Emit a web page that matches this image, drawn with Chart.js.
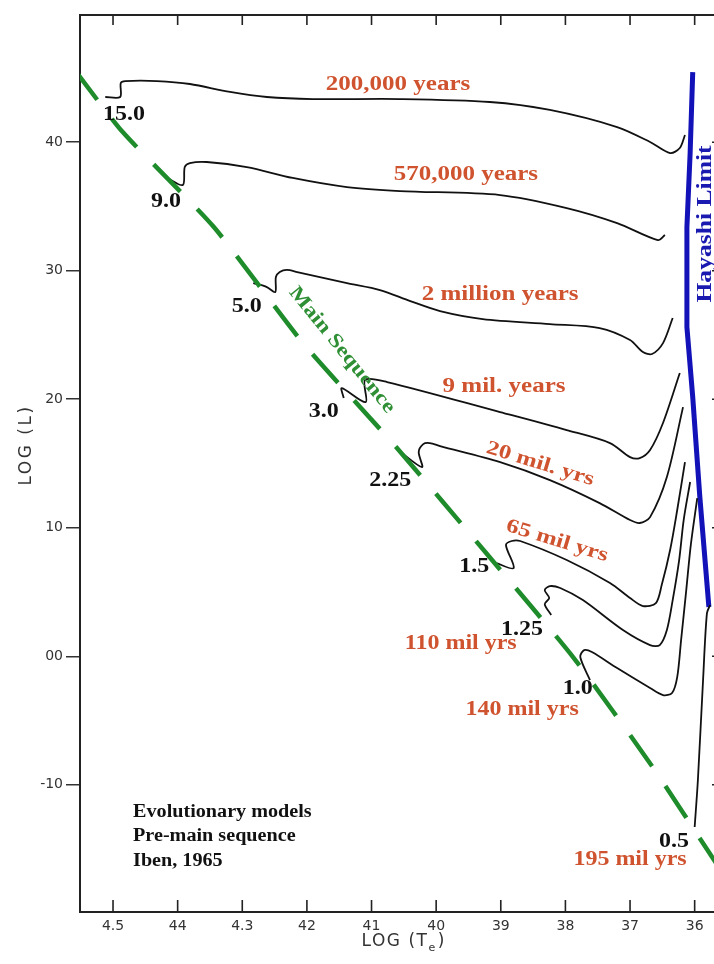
<!DOCTYPE html>
<html>
<head>
<meta charset="utf-8">
<script src="https://cdn.jsdelivr.net/npm/chart.js@4.4.1/dist/chart.umd.min.js"></script>
<style>
  html, body { margin: 0; padding: 0; background: #fff; overflow: hidden; }
  #wrap { width: 740px; height: 964px; }
</style>
</head>
<body>
<div id="wrap"><canvas id="hr" width="740" height="964"></canvas></div>
<script>
// Pre-main-sequence evolutionary tracks (Iben, 1965): log Te against log L

const xTickValues = [4.5, 4.4, 4.3, 4.2, 4.1, 4.0, 3.9, 3.8, 3.7, 3.6];
const xTickLabels = ["4.5", "44", "4.3", "42", "41", "40", "39", "38", "37", "36"];
const yTickValues = [4, 3, 2, 1, 0, -1];
const yTickLabels = ["40", "30", "20", "10", "00", "-10"];

// 15.0 solar masses
const track15_logT = [4.512, 4.489, 4.488, 4.481, 4.432, 4.381, 4.319, 4.262, 4.191, 4.056, 3.917, 3.824, 3.720, 3.669, 3.638, 3.623, 3.615];
const track15_logL = [4.352, 4.352, 4.461, 4.476, 4.476, 4.453, 4.391, 4.352, 4.336, 4.336, 4.313, 4.251, 4.118, 4.002, 3.916, 3.955, 4.056];
// 9.0
const track9_logT = [4.416, 4.392, 4.389, 4.381, 4.355, 4.293, 4.222, 4.138, 4.056, 3.901, 3.798, 3.720, 3.657, 3.646];
const track9_logL = [3.722, 3.667, 3.807, 3.838, 3.846, 3.807, 3.722, 3.651, 3.620, 3.589, 3.488, 3.371, 3.239, 3.278];
// 5.0
const track5_logT = [4.283, 4.262, 4.249, 4.248, 4.242, 4.231, 4.215, 4.138, 4.087, 4.040, 3.994, 3.928, 3.824, 3.747, 3.700, 3.680, 3.666, 3.649, 3.634];
const track5_logL = [2.904, 2.873, 2.834, 2.951, 2.990, 3.006, 2.990, 2.904, 2.850, 2.764, 2.686, 2.624, 2.585, 2.554, 2.461, 2.367, 2.352, 2.437, 2.632];
// 3.0
const track3_logT = [4.143, 4.146, 4.109, 4.110, 4.076, 3.901, 3.798, 3.731, 3.700, 3.685, 3.669, 3.649, 3.623];
const track3_logL = [2.010, 2.087, 1.978, 2.150, 2.134, 1.900, 1.760, 1.659, 1.550, 1.542, 1.605, 1.815, 2.204];
// 2.25
const track225_logT = [4.059, 4.022, 4.027, 4.020, 4.010, 3.994, 3.901, 3.824, 3.747, 3.700, 3.685, 3.669, 3.643, 3.618];
const track225_logL = [1.605, 1.472, 1.589, 1.651, 1.659, 1.636, 1.511, 1.371, 1.192, 1.060, 1.037, 1.083, 1.395, 1.939];
// 1.5
const track150_logT = [3.907, 3.880, 3.892, 3.883, 3.870, 3.798, 3.731, 3.700, 3.680, 3.660, 3.651, 3.638, 3.627, 3.615];
const track150_logL = [0.725, 0.686, 0.865, 0.897, 0.897, 0.749, 0.570, 0.453, 0.391, 0.414, 0.554, 0.827, 1.138, 1.511];
// 1.25
const track125_logT = [3.822, 3.832, 3.825, 3.832, 3.824, 3.808, 3.773, 3.711, 3.669, 3.654, 3.643, 3.634, 3.624, 3.617, 3.607];
const track125_logL = [0.321, 0.406, 0.453, 0.515, 0.546, 0.531, 0.437, 0.204, 0.087, 0.087, 0.204, 0.437, 0.749, 1.060, 1.356];
// 1.0
const track100_logT = [3.762, 3.777, 3.771, 3.759, 3.720, 3.669, 3.649, 3.635, 3.627, 3.621, 3.613, 3.606, 3.596];
const track100_logL = [-0.185, -0.006, 0.048, 0.033, -0.092, -0.247, -0.302, -0.286, -0.162, 0.126, 0.515, 0.865, 1.231];
// 0.5
const track050_logT = [3.600, 3.595, 3.587, 3.581, 3.576];
const track050_logL = [-1.329, -0.963, -0.185, 0.336, 0.399];

// Hayashi limit
const hayashi_logT = [3.603, 3.607, 3.612, 3.612, 3.603, 3.592, 3.578];
const hayashi_logL = [4.546, 3.916, 3.340, 2.562, 2.017, 1.239, 0.383];

// Zero-age main sequence
const mainSeq_logT = [4.560, 4.485, 4.344, 4.206, 4.062, 3.924, 3.787, 3.665, 3.570, 3.550];
const mainSeq_logL = [4.566, 4.079, 3.340, 2.437, 1.628, 0.811, -0.014, -0.862, -1.586, -1.740];

const tracks = [
  [track15_logT, track15_logL],
  [track9_logT, track9_logL],
  [track5_logT, track5_logL],
  [track3_logT, track3_logL],
  [track225_logT, track225_logL],
  [track150_logT, track150_logL],
  [track125_logT, track125_logL],
  [track100_logT, track100_logL],
  [track050_logT, track050_logL]
];

const toPoints = (xs, ys) => xs.map((x, i) => ({ x: x, y: ys[i] }));

const datasets = [];
datasets.push({
  data: toPoints(mainSeq_logT, mainSeq_logL),
  borderColor: '#1f8c2c', borderWidth: 4.5, borderDash: [38, 24], tension: 0.2,
  borderCapStyle: 'butt'
});
tracks.forEach(([t, l]) => datasets.push({
  data: toPoints(t, l), borderColor: '#111', borderWidth: 1.8, tension: 0.3
}));
datasets.push({
  data: toPoints(hayashi_logT, hayashi_logL),
  borderColor: '#1212b8', borderWidth: 5, tension: 0
});

// Text placed in (log Te, log L) coordinates
const RED = '#d0532f';
const annotations = [
  { text: "200,000 years", x: 4.059, y: 4.445, color: RED, size: 20, sx: 1.25 },
  { text: "570,000 years", x: 3.954, y: 3.745, color: RED, size: 20, sx: 1.25 },
  { text: "2 million years", x: 3.901, y: 2.811, color: RED, size: 20, sx: 1.25 },
  { text: "9 mil. years", x: 3.895, y: 2.095, color: RED, size: 20, sx: 1.25 },
  { text: "20 mil. yrs", x: 3.839, y: 1.496, color: RED, size: 20, sx: 1.25, angle: 17 },
  { text: "65 mil yrs", x: 3.813, y: 0.897, color: RED, size: 20, sx: 1.25, angle: 17 },
  { text: "110 mil yrs", x: 3.962, y: 0.095, color: RED, size: 20, sx: 1.2 },
  { text: "140 mil yrs", x: 3.867, y: -0.419, color: RED, size: 20, sx: 1.2 },
  { text: "195 mil yrs", x: 3.700, y: -1.586, color: RED, size: 20, sx: 1.2 },
  { text: "15.0", x: 4.483, y: 4.212, color: '#111', size: 20, sx: 1.2 },
  { text: "9.0", x: 4.418, y: 3.535, color: '#111', size: 20, sx: 1.2 },
  { text: "5.0", x: 4.293, y: 2.718, color: '#111', size: 20, sx: 1.2 },
  { text: "3.0", x: 4.174, y: 1.900, color: '#111', size: 20, sx: 1.2 },
  { text: "2.25", x: 4.071, y: 1.364, color: '#111', size: 20, sx: 1.2 },
  { text: "1.5", x: 3.941, y: 0.694, color: '#111', size: 20, sx: 1.2 },
  { text: "1.25", x: 3.867, y: 0.204, color: '#111', size: 20, sx: 1.2 },
  { text: "1.0", x: 3.781, y: -0.255, color: '#111', size: 20, sx: 1.2 },
  { text: "0.5", x: 3.632, y: -1.446, color: '#111', size: 20, sx: 1.2 },
  { text: "Main Sequence", x: 4.146, y: 2.383, color: '#2f8f35', size: 20, sx: 1.2, angle: 51 },
  { text: "Hayashi Limit", x: 3.583, y: 3.364, color: '#1a1ab0', size: 20, sx: 1.28, angle: -90 }
];
const noteLines = ["Evolutionary models", "Pre-main sequence", "Iben, 1965"];
const noteAnchor = { x: 4.469, y: -1.212 };

const X_MIN = 3.5577, X_MAX = 4.5511, Y_MIN = -1.99, Y_MAX = 4.99;

function drawText(ctx, a, px, py) {
  ctx.save();
  ctx.translate(px, py);
  if (a.angle) ctx.rotate(a.angle * Math.PI / 180);
  ctx.scale(a.sx || 1, 1);
  ctx.font = 'bold ' + a.size + 'px "Liberation Serif", "Times New Roman", serif';
  ctx.fillStyle = a.color;
  ctx.textAlign = a.align || 'center';
  ctx.textBaseline = 'middle';
  ctx.fillText(a.text, 0, 0);
  ctx.restore();
}

const framePlugin = {
  id: 'frameTicks',
  afterDraw(chart) {
    const ctx = chart.ctx, ca = chart.chartArea;
    const xs = chart.scales.x, ys = chart.scales.y;
    ctx.save();
    ctx.strokeStyle = '#222';
    ctx.lineWidth = 1.6;
    ctx.beginPath();
    xTickValues.forEach(v => {
      const px = xs.getPixelForValue(v);
      ctx.moveTo(px, ca.bottom); ctx.lineTo(px, ca.bottom - 12);
      ctx.moveTo(px, ca.top); ctx.lineTo(px, ca.top + 10);
    });
    yTickValues.forEach(v => {
      const py = ys.getPixelForValue(v);
      ctx.moveTo(ca.right, py); ctx.lineTo(ca.right - 10, py);
    });
    ctx.stroke();

    // axis titles
    const big = '17px "DejaVu Sans", sans-serif', small = '11px "DejaVu Sans", sans-serif';
    ctx.fillStyle = '#333';
    ctx.textBaseline = 'middle';
    ctx.letterSpacing = '1.5px';
    const cx = xs.getPixelForValue(4.051);
    const tMain = 'LOG (T', tClose = ')';
    ctx.font = big;
    const w1 = ctx.measureText(tMain).width;
    ctx.font = small;
    const w2 = ctx.measureText('e').width;
    ctx.font = big;
    const w3 = ctx.measureText(tClose).width;
    const sx0 = cx - (w1 + w2 + w3) / 2;
    const ty = 942;
    ctx.textAlign = 'left';
    ctx.fillText(tMain, sx0, ty);
    ctx.font = small;
    ctx.fillText('e', sx0 + w1, ty + 6);
    ctx.font = big;
    ctx.fillText(tClose, sx0 + w1 + w2 + 1, ty);

    ctx.letterSpacing = '2.5px';
    ctx.save();
    ctx.translate(27, ys.getPixelForValue(1.644));
    ctx.rotate(-Math.PI / 2);
    ctx.textAlign = 'center';
    ctx.fillText('LOG (L)', 0, 0);
    ctx.restore();
    ctx.letterSpacing = '0px';
    ctx.restore();
  }
};

const textPlugin = {
  id: 'trackText',
  afterDatasetsDraw(chart) {
    const ctx = chart.ctx;
    const xs = chart.scales.x, ys = chart.scales.y;
    annotations.forEach(a => drawText(ctx, a, xs.getPixelForValue(a.x), ys.getPixelForValue(a.y)));
    const nx = xs.getPixelForValue(noteAnchor.x), ny = ys.getPixelForValue(noteAnchor.y);
    noteLines.forEach((line, i) => drawText(ctx,
      { text: line, color: '#111', size: 18, sx: 1.12, align: 'left' }, nx, ny + i * 24.5));
  }
};

const fixTicks = vals => scale => { scale.ticks = vals.map(v => ({ value: v })); };
const axisBorder = { display: true, color: '#222', width: 2 };

new Chart(document.getElementById('hr'), {
  type: 'line',
  data: { datasets },
  options: {
    responsive: false,
    animation: false,
    devicePixelRatio: 1,
    layout: { padding: 0 },
    plugins: { legend: { display: false }, tooltip: { enabled: false } },
    elements: { point: { radius: 0 } },
    scales: {
      x: {
        type: 'linear', position: 'bottom', reverse: true, min: X_MIN, max: X_MAX,
        afterBuildTicks: fixTicks(xTickValues),
        afterFit: s => { s.height = 52; },
        grid: { display: false, drawTicks: false },
        border: axisBorder,
        ticks: {
          autoSkip: false, maxRotation: 0, padding: 6, color: '#333',
          font: { family: 'DejaVu Sans', size: 14 },
          callback: (v, i) => xTickLabels[i]
        }
      },
      xTop: {
        type: 'linear', position: 'top', reverse: true, min: X_MIN, max: X_MAX,
        afterBuildTicks: fixTicks(xTickValues),
        afterFit: s => { s.height = 15; },
        grid: { display: false, drawTicks: false },
        border: axisBorder,
        ticks: { display: false }
      },
      y: {
        type: 'linear', position: 'left', min: Y_MIN, max: Y_MAX,
        afterBuildTicks: fixTicks(yTickValues),
        afterFit: s => { s.width = 80; },
        grid: { display: true, drawOnChartArea: false, drawTicks: true, tickLength: 14, color: '#333', lineWidth: 1.5 },
        border: axisBorder,
        ticks: {
          autoSkip: false, padding: 3, color: '#333',
          font: { family: 'DejaVu Sans', size: 14 },
          callback: (v, i) => yTickLabels[i]
        }
      },
      yRight: {
        type: 'linear', position: 'right', min: Y_MIN, max: Y_MAX,
        afterBuildTicks: fixTicks(yTickValues),
        afterFit: s => { s.width = 18; },
        grid: { display: false, drawTicks: false },
        border: axisBorder,
        ticks: { display: false }
      }
    }
  },
  plugins: [framePlugin, textPlugin]
});
</script>
</body>
</html>
